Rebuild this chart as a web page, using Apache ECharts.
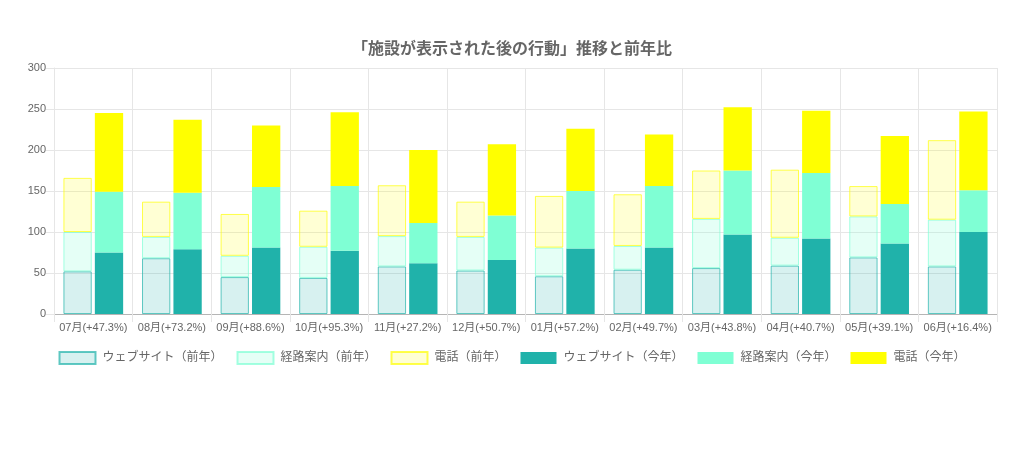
<!DOCTYPE html>
<html><head><meta charset="utf-8">
<script src="https://cdn.jsdelivr.net/npm/echarts@6/dist/echarts.min.js"></script>
<style>html,body{margin:0;padding:0;background:#fff}#c{width:1024px;height:476px}</style>
</head><body><div id="c"></div>
<script>
const categories = ['07月(+47.3%)','08月(+73.2%)','09月(+88.6%)','10月(+95.3%)','11月(+27.2%)','12月(+50.7%)','01月(+57.2%)','02月(+49.7%)','03月(+43.8%)','04月(+40.7%)','05月(+39.1%)','06月(+16.4%)'];
const prevWeb   = [52,68,45,44,58,53,46,54,56,59,69,58];
const prevRoute = [48,26,26,38,37,41,35,29,60,34,50,57];
const prevPhone = [66,43,51,44,62,43,63,63,59,83,37,97];
const curWeb    = [75,79,81,77,62,66,80,81,97,92,86,100];
const curRoute  = [74,69,74,79,49,54,70,75,78,80,48,51];
const curPhone  = [96,89,75,90,89,87,76,63,77,76,83,96];
const yTicks = [0,50,100,150,200,250,300];

const FONT = "'Liberation Sans','Noto Sans CJK JP',sans-serif";
const grid = '#e6e6e6';
function s(name, data, stack, fill, border) {
  return {
    name, type: 'bar', stack, data, barWidth: 28.3, barGap: '11%',
    itemStyle: { color: fill, borderColor: border, borderWidth: border ? 1 : 0 },
    emphasis: { disabled: true }
  };
}
const chart = echarts.init(document.getElementById('c'), null, { renderer: 'canvas' });
chart.setOption({
  animation: false,
  textStyle: { fontFamily: FONT },
  title: {
    text: '「施設が表示された後の行動」推移と前年比',
    left: 'center', top: 35,
    textStyle: { fontSize: 16, fontWeight: 'bold', color: '#666', fontFamily: "'Noto Sans CJK JP',sans-serif" }
  },
  legend: {
    top: 346, left: 'center', icon: 'rect', itemWidth: 36, itemHeight: 12, itemGap: 14,
    textStyle: { fontSize: 12, color: '#666', fontFamily: FONT, padding: [0, 0, 0, 2] }
  },
  grid: { left: 54, right: 27, top: 68, bottom: 162, outerBoundsMode: 'none' },
  xAxis: {
    type: 'category', data: categories, boundaryGap: true,
    axisLine: { show: true, lineStyle: { color: '#b5b5b5', width: 1 } },
    axisTick: { show: true, length: 8, lineStyle: { color: grid } },
    splitLine: { show: true, lineStyle: { color: grid } },
    axisLabel: { fontSize: 11, color: '#666', margin: 8, interval: 0, fontFamily: FONT }
  },
  yAxis: {
    type: 'value', min: yTicks[0], max: yTicks[yTicks.length - 1], interval: yTicks[1] - yTicks[0],
    axisLine: { show: true, lineStyle: { color: grid } },
    axisTick: { show: true, length: 8, lineStyle: { color: grid } },
    splitLine: { show: true, lineStyle: { color: grid } },
    axisLabel: { fontSize: 11, color: '#666', margin: 8, fontFamily: FONT }
  },
  series: [
    s('ウェブサイト（前年）', prevWeb, 'prev', 'rgba(32,178,170,0.18)', 'rgba(32,178,170,0.7)'),
    s('経路案内（前年）', prevRoute, 'prev', 'rgba(127,255,212,0.2)', 'rgba(127,255,212,0.7)'),
    s('電話（前年）', prevPhone, 'prev', 'rgba(255,255,0,0.17)', 'rgba(255,255,0,0.7)'),
    s('ウェブサイト（今年）', curWeb, 'cur', '#20b2aa', null),
    s('経路案内（今年）', curRoute, 'cur', '#7fffd4', null),
    s('電話（今年）', curPhone, 'cur', '#ffff00', null)
  ]
});
</script></body></html>
